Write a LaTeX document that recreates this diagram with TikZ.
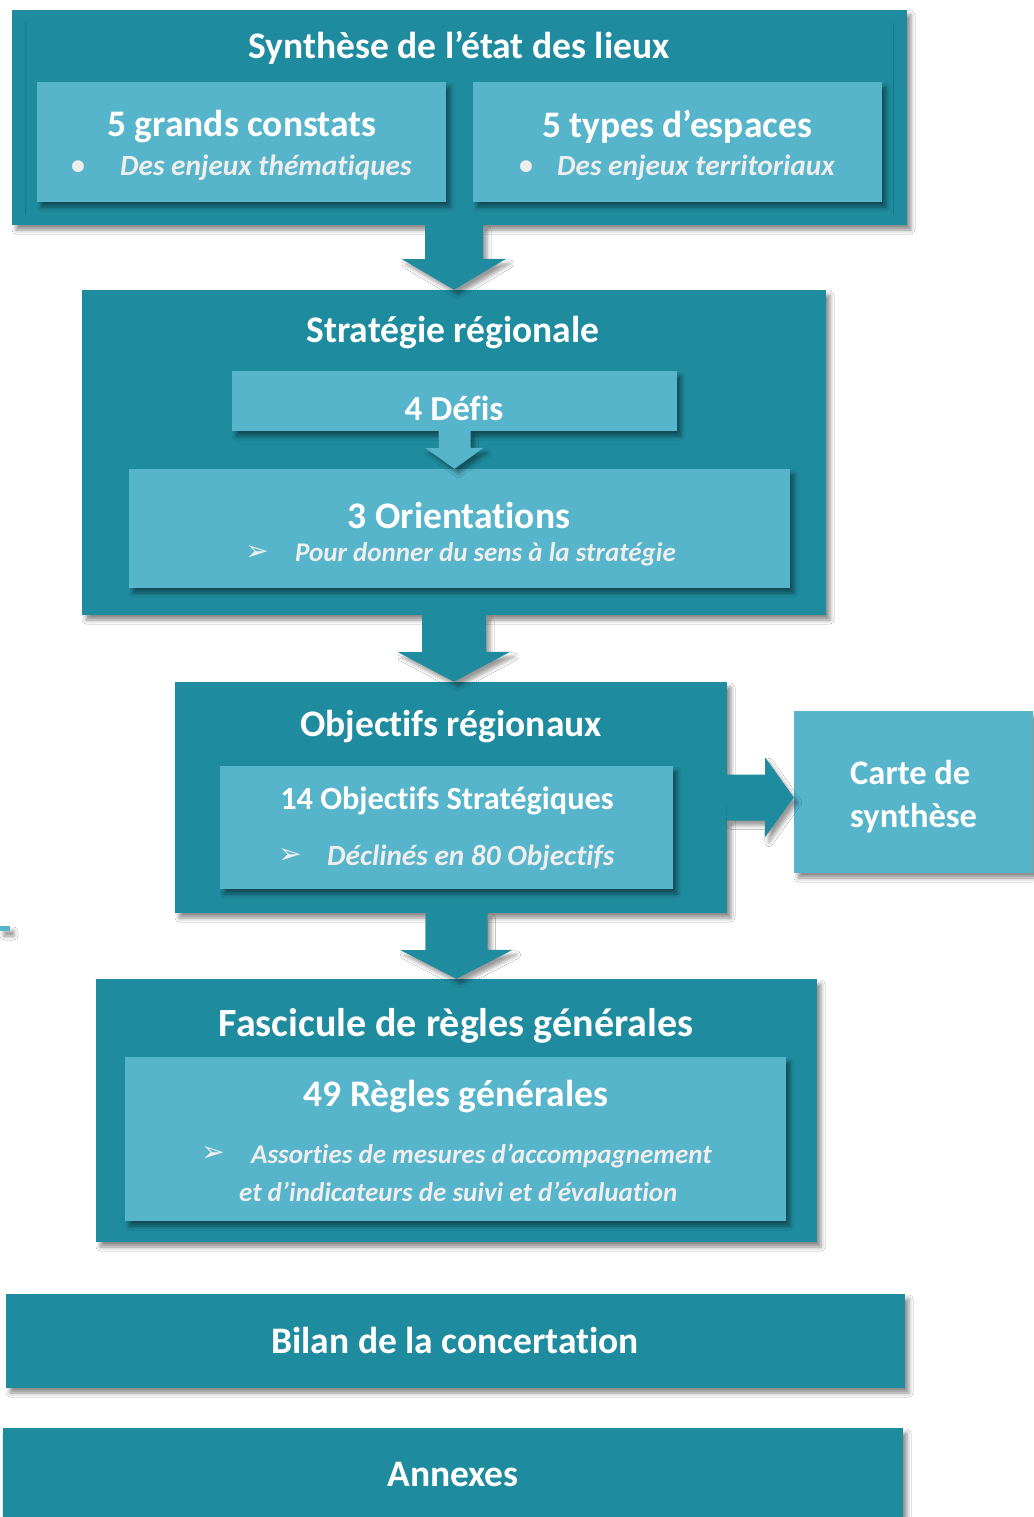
\documentclass[tikz,border=0pt]{standalone}
\usepackage{fontspec}
\setmainfont{Carlito}[Ligatures=NoCommon]
\newfontfamily\symfont{DejaVu Sans}
\usetikzlibrary{calc,shadows.blur}
\definecolor{tealdark}{HTML}{1F8B9E}
\definecolor{teallight}{HTML}{56B4CB}
\definecolor{paleWhite}{HTML}{EEEEEE}

\begin{document}
\begin{tikzpicture}[x=1pt,y=-1pt]
	% Define the styles for the boxes and the texts
	\tikzstyle{box}=[rectangle, inner sep=0pt, blur shadow={shadow xshift=4pt,
	shadow yshift=-5pt, shadow blur radius=4pt, shadow opacity=45}]
	\tikzstyle{darkbox}=[box, fill=tealdark] \tikzstyle{lightbox}=[box, fill=teallight]
	\tikzstyle{title}=[text=white, inner sep=0pt, font=\fontsize{37.5}{44}\selectfont\bfseries]
	\tikzstyle{subtitle}=[title, font=\fontsize{32.3}{38}\selectfont\bfseries]
	\tikzstyle{note}=[text=paleWhite, inner sep=0pt, anchor=west,
	font=\fontsize{29.3}{35}\selectfont\bfseries\itshape]
	\tikzstyle{smallnote}=[note, font=\fontsize{27}{33}\selectfont\bfseries\itshape]
	\tikzstyle{dot}=[text=paleWhite, inner sep=0pt, font=\fontsize{28}{33}\selectfont\bfseries]
	\tikzstyle{tip}=[text=paleWhite, inner sep=0pt, font=\fontsize{28}{33}\selectfont\symfont]
	\tikzstyle{arrowshadow}=[blur shadow={shadow xshift=4pt, shadow yshift=-5pt,
	shadow blur radius=4pt, shadow opacity=40}]
	
	% Page
	\path[use as bounding box, fill=white] (0,0) rectangle (1033,1517);
	
	% Synthesis box with its two parts
	\node[darkbox, minimum width=895, minimum height=215] (synth) at (459.5,117.5) {};
	\draw[black, opacity=0.15] (25,23) -- (25,215); \draw[black, opacity=0.15] (893,23) -- (893,215);
	\node[lightbox, minimum width=409, minimum height=120] (constats) at (241.5,142) {};
	\node[lightbox, minimum width=409, minimum height=120] (espaces) at (677.5,142) {};
	\node[title] (synth-t) at (459,48) {Synthèse de l’état des lieux};
	\node[title] (constats-t) at (242,127) {5 grands constats};
	\node[dot] (constats-b) at (78,168) {•}; \node[note] (constats-n) at (120,168) {Des enjeux thématiques};
	\node[title] (espaces-t) at (677,127) {5 types d’espaces};
	\node[dot] (espaces-b) at (526,168) {•}; \node[note] (espaces-n) at (557,168) {Des enjeux territoriaux};
	
	% Strategy box
	\node[darkbox, minimum width=744, minimum height=325] (strat) at (454,452.5) {};
	\node[lightbox, minimum width=445, minimum height=60] (defis) at (454.5,401) {};
	\node[lightbox, minimum width=661, minimum height=119] (orient) at (459.5,528.5) {};
	\node[title] (strat-t) at (453,333) {Stratégie régionale};
	\node[title, font=\fontsize{35}{42}\selectfont\bfseries] (defis-t) at (454,408) {4 Défis};
	\node[title] (orient-t) at (459,515) {3 Orientations};
	\node[tip] (orient-b) at (257,553) {➢}; \node[smallnote] (orient-n) at (295,554) {Pour donner du sens à la stratégie};
	
	% Objectives box and map
	\node[darkbox, minimum width=552, minimum height=231] (obj) at (451,797.5) {};
	\node[lightbox, minimum width=453, minimum height=123] (objstrat) at (446.5,827.5) {};
	\node[lightbox, minimum width=239, minimum height=162] (carte) at (913.5,792) {};
	\node[lightbox, minimum width=10, minimum height=5] (stub) at (5,928.5) {};
	\node[title] (obj-t) at (451,727) {Objectifs régionaux};
	\node[subtitle] (objstrat-t) at (447,801) {14 Objectifs Stratégiques};
	\node[tip] (objstrat-b) at (290,856) {➢}; \node[note] (objstrat-n) at (327,858) {Déclinés en 80 Objectifs};
	\node[title, anchor=west, align=left, font=\fontsize{34.5}{43}\selectfont\bfseries] (carte-t) at (850,797)
	{Carte de\\synthèse};
	
	% Rules box
	\node[darkbox, minimum width=721, minimum height=263] (fasc) at (456.5,1110.5) {};
	\node[lightbox, minimum width=661, minimum height=164] (regles) at (455.5,1139) {};
	\node[title, font=\fontsize{40}{46}\selectfont\bfseries] (fasc-t) at (456,1026) {Fascicule de règles générales};
	\node[title] (regles-t) at (456,1097) {49 Règles générales};
	\node[tip] (regles-b) at (213,1154) {➢}; \node[smallnote] (regles-n) at (251,1156) {Assorties de mesures d’accompagnement};
	\node[smallnote] (regles-m) at (239,1192) {et d’indicateurs de suivi et d’évaluation};
	
	% Last two boxes
	\node[darkbox, minimum width=899, minimum height=94] (bilan) at (455.5,1341) {};
	\node[darkbox, minimum width=900, minimum height=100] (annexes) at (453,1478) {};
	\node[title] (bilan-t) at (455,1340) {Bilan de la concertation};
	\node[title] (annexes-t) at (453,1474) {Annexes};
	
	% Block arrows between the boxes
	\fill[tealdark, arrowshadow] (synth.south -| strat.north) ++(-29,0) -- ++(0,34) -- ++(-23,0)
	-- (strat.north) -- ++(52,-31) -- ++(-23,0) -- ++(0,-34) -- cycle;
	\fill[teallight, arrowshadow] (defis.south) ++(-16,0) -- ++(0,17) -- ++(-13,0)
	-- (defis.south |- orient.north) -- ++(29,-21) -- ++(-13,0) -- ++(0,-17) -- cycle;
	\fill[tealdark, arrowshadow] (strat.south) ++(-32,0) -- ++(0,37) -- ++(-24,0)
	-- (strat.south |- obj.north) -- ++(56,-30) -- ++(-24,0) -- ++(0,-37) -- cycle;
	\fill[tealdark, arrowshadow] (obj.south -| fasc.north) ++(-31,0) -- ++(0,37) -- ++(-25,0)
	-- (fasc.north) -- ++(56,-29) -- ++(-25,0) -- ++(0,-37) -- cycle;
	\fill[tealdark, arrowshadow] (obj.east) ++(0,-23) -- ++(38,0) -- ++(0,-17)
	-- (obj.east -| carte.west) -- ++(-29,40) -- ++(0,-17) -- ++(-38,0) -- cycle;
\end{tikzpicture}
\end{document}
